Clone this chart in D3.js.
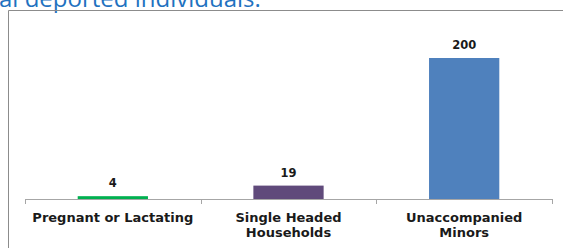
<!DOCTYPE html>
<html>
<head>
<meta charset="utf-8">
<script src="https://cdn.jsdelivr.net/npm/d3@7"></script>
<style>
  html, body { margin: 0; padding: 0; background: #fff; overflow: hidden; }
</style>
</head>
<body>
<svg id="chart" width="563" height="248"></svg>
<script>
const categories = [["Pregnant or Lactating"], ["Single Headed", "Households"], ["Unaccompanied", "Minors"]];
const values = [4, 19, 200];
const colors = ["#00b050", "#604a7b", "#4f81bd"];
const titleText = "al deported individuals.";

const svg = d3.select("svg#chart");

// title line cut off at the top of the crop
svg.append("text")
  .attr("x", -1)
  .attr("y", 7)
  .attr("fill", "#1f72c0")
  .style("font-family", "'Open Sans', sans-serif")
  .style("font-size", "24px")
  .text(titleText);

// frame of the chart object
svg.append("path")
  .attr("d", "M8.5,248 V10.5 H563")
  .attr("fill", "none")
  .attr("stroke", "#8c8c8c")
  .attr("stroke-width", 1);

const chartArea = { left: 25, right: 552, top: 58, bottom: 199 };

const xScale = d3.scaleBand()
  .domain(d3.range(values.length))
  .range([chartArea.left, chartArea.right])
  .paddingInner(0.6)
  .paddingOuter(0.3);

const yScale = d3.scaleLinear()
  .domain([0, 200])
  .range([chartArea.bottom, chartArea.top]);

// bars
svg.append("g")
  .selectAll("rect")
  .data(values)
  .enter()
  .append("rect")
  .attr("x", (d, i) => xScale(i))
  .attr("y", d => yScale(d))
  .attr("width", xScale.bandwidth())
  .attr("height", d => yScale(0) - yScale(d))
  .attr("fill", (d, i) => colors[i]);

// value labels
svg.append("g")
  .selectAll("text")
  .data(values)
  .enter()
  .append("text")
  .attr("x", (d, i) => xScale(i) + xScale.bandwidth() / 2)
  .attr("y", d => yScale(d) - 9)
  .attr("text-anchor", "middle")
  .attr("fill", "#1a1a1a")
  .style("font-family", "'DejaVu Sans', sans-serif")
  .style("font-weight", "bold")
  .style("font-size", "11.5px")
  .text(d => d);

// x axis with ticks between categories
const step = (chartArea.right - chartArea.left) / values.length;
const axis = svg.append("g");
axis.append("line")
  .attr("x1", chartArea.left).attr("x2", chartArea.right)
  .attr("y1", chartArea.bottom + 0.5).attr("y2", chartArea.bottom + 0.5)
  .attr("stroke", "#a6a6a6");
axis.selectAll("line.tick")
  .data(d3.range(values.length + 1))
  .enter()
  .append("line")
  .attr("class", "tick")
  .attr("x1", i => Math.round(chartArea.left + i * step) + 0.5)
  .attr("x2", i => Math.round(chartArea.left + i * step) + 0.5)
  .attr("y1", chartArea.bottom)
  .attr("y2", chartArea.bottom + 5)
  .attr("stroke", "#a6a6a6");

// category labels
const labels = svg.append("g")
  .selectAll("text")
  .data(categories)
  .enter()
  .append("text")
  .attr("text-anchor", "middle")
  .attr("fill", "#1a1a1a")
  .style("font-family", "'DejaVu Sans', sans-serif")
  .style("font-weight", "bold")
  .style("font-size", "13px");
labels.selectAll("tspan")
  .data((d, i) => d.map(t => ({ t, i })))
  .enter()
  .append("tspan")
  .attr("x", d => xScale(d.i) + xScale.bandwidth() / 2)
  .attr("y", (d, j) => 222 + j * 15)
  .text(d => d.t);
</script>
</body>
</html>
